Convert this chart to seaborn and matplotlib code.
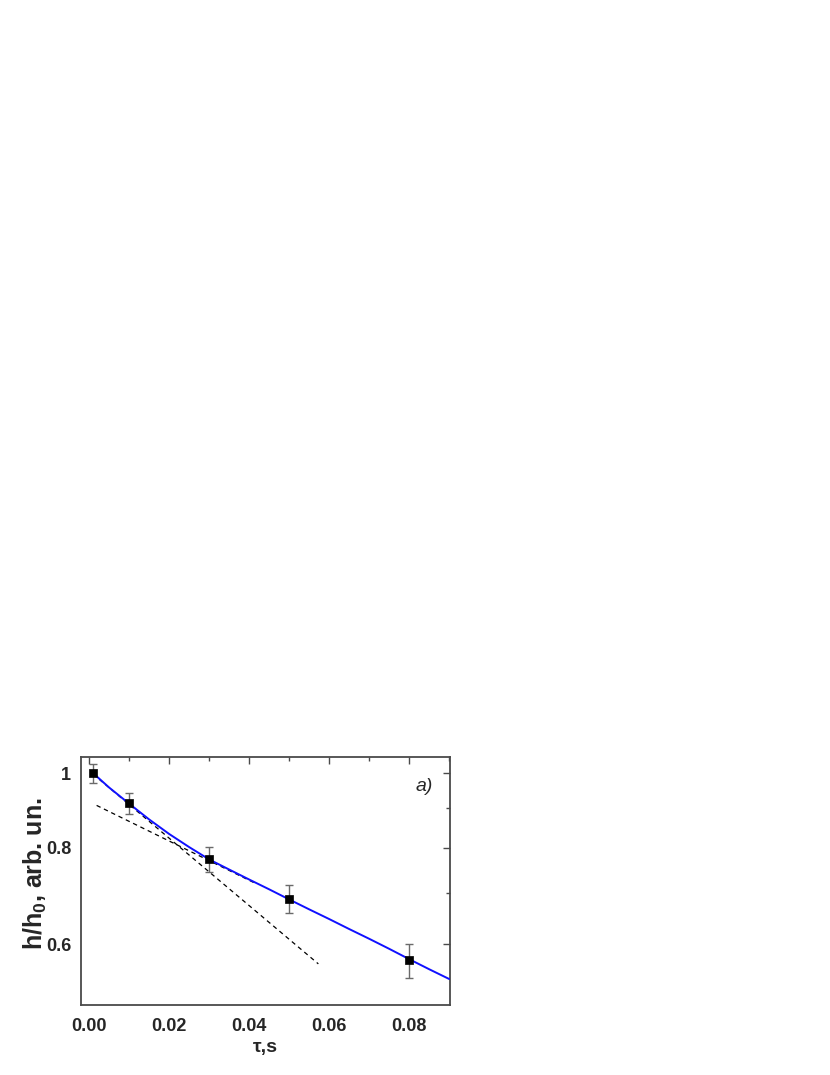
import numpy as np
import pandas as pd
import matplotlib
matplotlib.use("Agg")
import matplotlib.pyplot as plt
from matplotlib.ticker import FixedLocator, NullFormatter
import seaborn as sns

# ---- data ----
tau_pts = [0.001, 0.01, 0.03, 0.05, 0.08]
h_pts = [1.0, 0.914, 0.773, 0.687, 0.572]
h_err = [0.028, 0.029, 0.029, 0.029, 0.029]

fit_tau = [0.001, 0.005, 0.01, 0.015, 0.02, 0.025, 0.03, 0.035, 0.04, 0.045,
           0.05, 0.055, 0.06, 0.065, 0.07, 0.075, 0.08, 0.085, 0.09]
fit_h = [1.0, 0.958, 0.913, 0.871, 0.834, 0.802, 0.773, 0.750, 0.728, 0.707,
         0.686, 0.666, 0.647, 0.628, 0.610, 0.592, 0.574, 0.557, 0.541]

fast_tau = [0.001, 0.0573]
fast_h = [0.997, 0.566]
slow_tau = [0.0019, 0.0415]
slow_h = [0.908, 0.720]

xticks = [0.00, 0.02, 0.04, 0.06, 0.08]
xtick_labels = ["0.00", "0.02", "0.04", "0.06", "0.08"]
xminor = [0.01, 0.03, 0.05, 0.07, 0.09]
yticks = [0.6, 0.8, 1.0]
ytick_labels = ["0.6", "0.8", "1"]
yminor = [0.7, 0.9]

sns.set_style("white")
plt.rcParams['font.family'] = ['Liberation Sans', 'DejaVu Sans']
plt.rcParams['mathtext.fontset'] = 'custom'
plt.rcParams['mathtext.rm'] = 'Liberation Sans:bold'
plt.rcParams['mathtext.bf'] = 'Liberation Sans:bold'
plt.rcParams['mathtext.it'] = 'Liberation Sans:bold'

fig = plt.figure(figsize=(8.3, 10.75), dpi=100)
ax = fig.add_axes([0.0976, 0.0647, 0.4446, 0.2314])

spine_col = '#4a4a4a'

fit_df = pd.DataFrame({"tau": fit_tau, "h": fit_h})
sns.lineplot(data=fit_df, x="tau", y="h", ax=ax, color='#1010ff', lw=1.4,
             sort=False, zorder=4)
sns.lineplot(x=fast_tau, y=fast_h, ax=ax, color='black', lw=0.9,
             linestyle=(0, (3.5, 3)), zorder=3)
sns.lineplot(x=slow_tau, y=slow_h, ax=ax, color='black', lw=0.9,
             linestyle=(0, (3.5, 3)), zorder=3)

ax.errorbar(tau_pts, h_pts, yerr=h_err, fmt='none', ecolor='#6a6a6a',
            elinewidth=1.0, capsize=3, capthick=1.0, zorder=5)
pts_df = pd.DataFrame({"tau": tau_pts, "h": h_pts})
sns.scatterplot(data=pts_df, x="tau", y="h", ax=ax, marker='s', s=32,
                color='black', edgecolor='black', linewidth=0.5, zorder=6)

ax.set_yscale('log')
ax.set_xlim(-0.002, 0.0902)
ax.set_ylim(0.5, 1.05)

ax.xaxis.set_major_locator(FixedLocator(xticks))
ax.set_xticklabels(xtick_labels)
ax.xaxis.set_minor_locator(FixedLocator(xminor))
ax.yaxis.set_major_locator(FixedLocator(yticks))
ax.yaxis.set_minor_locator(FixedLocator(yminor))
ax.yaxis.set_minor_formatter(NullFormatter())
ax.set_yticklabels(ytick_labels)

ax.tick_params(axis='both', which='major', direction='out', length=5,
               width=1.0, color=spine_col, labelsize=13, pad=4)
ax.tick_params(axis='y', which='major', pad=2)
ax.tick_params(axis='both', which='minor', direction='out', length=3,
               width=1.0, color=spine_col)
for lab in ax.get_xticklabels() + ax.get_yticklabels():
    lab.set_fontweight('bold')

for sp in ax.spines.values():
    sp.set_color(spine_col)
    sp.set_linewidth(1.3)
    sp.set_visible(True)

# mirrored inward ticks on top and right
axt = ax.secondary_xaxis('top')
axt.xaxis.set_major_locator(FixedLocator(xticks))
axt.xaxis.set_minor_locator(FixedLocator(xminor))
axt.tick_params(which='major', direction='in', length=5, width=1.0,
                color=spine_col, labeltop=False)
axt.tick_params(which='minor', direction='in', length=3, width=1.0,
                color=spine_col)
axt.spines['top'].set_visible(False)

axr = ax.secondary_yaxis('right')
axr.yaxis.set_major_locator(FixedLocator(yticks))
axr.yaxis.set_minor_locator(FixedLocator(yminor))
axr.yaxis.set_minor_formatter(NullFormatter())
axr.tick_params(which='major', direction='in', length=5, width=1.0,
                color=spine_col, labelright=False)
axr.tick_params(which='minor', direction='in', length=3, width=1.0,
                color=spine_col, labelright=False)
axr.spines['right'].set_visible(False)

ax.set_xlabel("τ,s", fontsize=14, fontweight='bold', labelpad=3)
ax.set_ylabel(r"h/h$_{0}$, arb. un.", fontsize=18, fontweight='bold')
ax.yaxis.set_label_coords(-0.088, 0.53)

ax.text(0.93, 0.88, "a)", transform=ax.transAxes, fontsize=14,
        fontstyle='italic', ha='center', va='center')

fig.savefig("out.png", dpi=100)
